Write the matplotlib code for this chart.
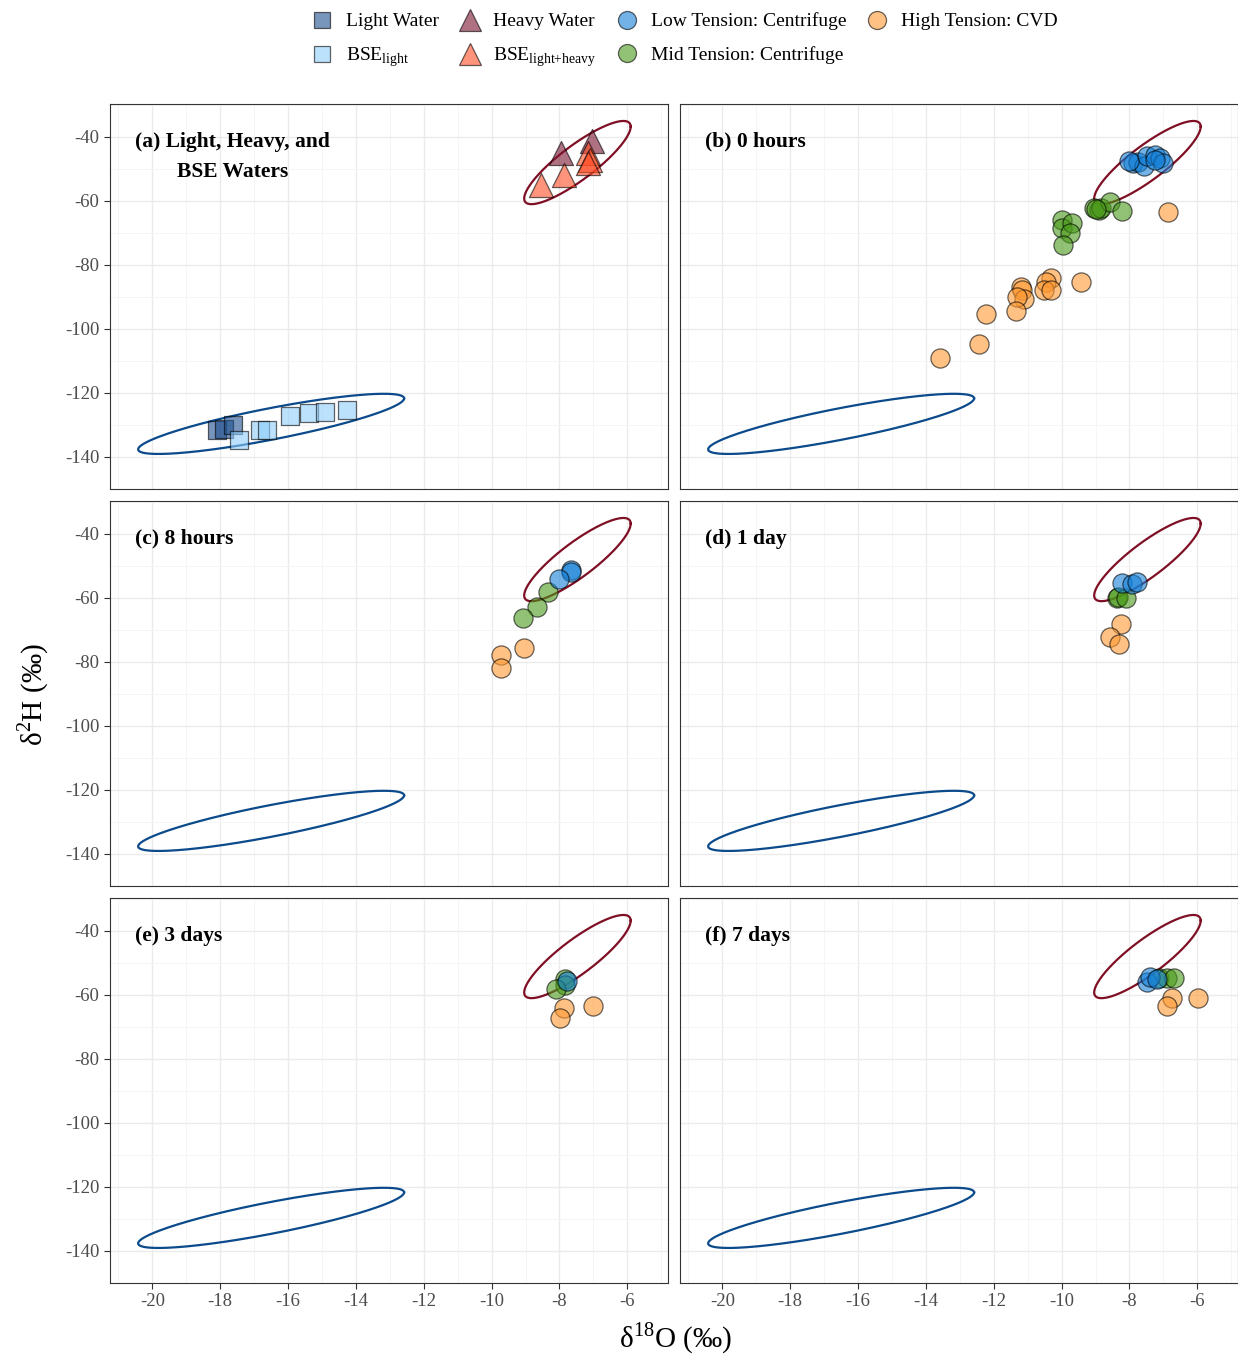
import numpy as np
import matplotlib
matplotlib.use("Agg")
import matplotlib.pyplot as plt
from matplotlib.lines import Line2D

plt.rcParams['font.family'] = ['Liberation Serif', 'DejaVu Serif']
plt.rcParams['axes.unicode_minus'] = False
plt.rcParams['mathtext.fontset'] = 'custom'
plt.rcParams['mathtext.rm'] = 'Liberation Serif'

# ---- data (d18O, d2H) ----
light_x = [-18.1, -17.9, -17.63]
light_y = [-131.7, -131.2, -130.0]
bse_light_x = [-17.45, -16.84, -16.63, -15.95, -15.39, -14.92, -14.26]
bse_light_y = [-134.7, -131.7, -131.7, -127.25, -126.2, -126.0, -125.2]
heavy_x = [-7.95, -7.03]
heavy_y = [-45.0, -41.4]
bse_lh_x = [-7.16, -7.1, -7.16, -7.87, -8.53]
bse_lh_y = [-45.0, -47.1, -48.2, -51.8, -55.0]

panels = ['(b) 0 hours', '(c) 8 hours', '(d) 1 day', '(e) 3 days', '(f) 7 days']
low_x = [
    [-7.89, -7.74, -7.58, -7.47, -7.26, -7.1, -7.0, -7.26, -8.0],
    [-7.67, -7.65, -8.01],
    [-8.23, -7.93, -7.77],
    [-7.77],
    [-7.49, -7.39, -7.2],
]
low_y = [
    [-48.2, -47.8, -49.2, -46.1, -45.5, -46.6, -48.2, -47.1, -47.6],
    [-51.4, -51.8, -54.2],
    [-55.4, -55.75, -55.0],
    [-55.6],
    [-56.1, -54.3, -55.0],
]
mid_x = [
    [-9.05, -8.89, -8.84, -8.58, -8.21, -10.0, -10.0, -9.68, -9.74, -9.95, -9.0],
    [-8.35, -8.65, -9.07],
    [-8.38, -8.33, -8.1],
    [-7.83, -7.83, -8.1],
    [-7.12, -6.9, -6.7],
]
mid_y = [
    [-62.3, -62.8, -62.3, -60.2, -63.1, -65.9, -68.5, -67.0, -70.1, -73.8, -62.6],
    [-58.1, -62.7, -66.3],
    [-60.1, -59.6, -59.9],
    [-55.1, -57.0, -58.2],
    [-54.6, -54.8, -54.8],
]
high_x = [
    [-6.86, -9.42, -10.32, -10.47, -10.53, -10.32, -11.21, -11.18, -11.11, -11.32,
     -11.35, -12.24, -12.44, -13.58],
    [-9.05, -9.71, -9.71],
    [-8.26, -8.57, -8.31],
    [-7.86, -7.98, -7.02],
    [-6.75, -6.9, -5.98],
]
high_y = [
    [-63.5, -85.2, -84.0, -85.2, -87.9, -87.9, -86.8, -87.9, -90.5, -90.0,
     -94.4, -95.2, -104.6, -109.0],
    [-75.6, -77.8, -81.9],
    [-68.0, -72.1, -74.4],
    [-64.0, -67.1, -63.6],
    [-61.1, -63.6, -61.0],
]

# ellipses: center x, half width x, center y, half height y, phase
light_ell = (-16.5, 3.92, -129.65, 9.4, 0.56)
heavy_ell = (-7.47, 1.57, -48.0, 13.0, 0.53)

c_light = '#1f4f8f'
c_bse_light = '#8fcdfa'
c_heavy = '#7a1530'
c_bse_lh = '#ff4d26'
c_low = '#1580d8'
c_mid = '#4a9a1a'
c_high = '#ff9a33'
c_ell_blue = '#0b4a8b'
c_ell_red = '#7f0f24'
alpha = 0.6


def draw_ellipse(ax, e, color):
    cx, ax_, cy, by, d = e
    t = np.linspace(0, 2 * np.pi, 300)
    ax.plot(cx + ax_ * np.cos(t), cy + by * np.cos(t - d), color=color, lw=1.6, zorder=2)


def style(ax, bottom, left):
    ax.set_xlim(-21.25, -4.8)
    ax.set_ylim(-150, -29.7)
    ax.set_xticks(np.arange(-20, -5, 2))
    ax.set_xticks(np.arange(-21, -4, 2), minor=True)
    ax.set_yticks(np.arange(-140, -39, 20))
    ax.set_yticks(np.arange(-150, -29, 20), minor=True)
    ax.grid(True, which='major', color='#ebebeb', lw=1.0, zorder=0)
    ax.grid(True, which='minor', color='#f4f4f4', lw=0.6, zorder=0)
    ax.set_axisbelow(True)
    for s in ax.spines.values():
        s.set_color('#333333')
        s.set_linewidth(0.8)
    ax.tick_params(which='major', length=4, color='#333333', labelsize=13.5,
                   labelcolor='#4d4d4d', labelbottom=bottom, labelleft=left)
    if not bottom:
        ax.tick_params(axis='x', which='major', length=0)
    if not left:
        ax.tick_params(axis='y', which='major', length=0)
    ax.tick_params(which='minor', length=0)


def pts(ax, x, y, color, marker='o', s=190):
    ax.scatter(x, y, s=s, marker=marker, facecolor=color, edgecolor='black',
               linewidth=0.9, alpha=alpha, zorder=3)


fig = plt.figure(figsize=(12.38, 13.54), dpi=100)
lefts = [110 / 1238, 680 / 1238]
bottoms = [1 - 489 / 1354, 1 - 886 / 1354, 1 - 1283 / 1354]
w = 558 / 1238
h = 385 / 1354

axes = []
for r in range(3):
    for c in range(2):
        ax = fig.add_axes([lefts[c], bottoms[r], w, h])
        style(ax, bottom=(r == 2), left=(c == 0))
        draw_ellipse(ax, light_ell, c_ell_blue)
        draw_ellipse(ax, heavy_ell, c_ell_red)
        axes.append(ax)

# panel (a)
ax = axes[0]
pts(ax, light_x, light_y, c_light, 's', 150)
pts(ax, bse_light_x, bse_light_y, c_bse_light, 's', 150)
pts(ax, heavy_x, heavy_y, c_heavy, '^', 300)
pts(ax, bse_lh_x, bse_lh_y, c_bse_lh, '^', 300)
ax.text(0.045, 0.862, '(a) Light, Heavy, and\nBSE Waters', transform=ax.transAxes,
        fontsize=15.5, fontweight='bold', va='center', ha='left', multialignment='center',
        linespacing=1.7)

for i, ax in enumerate(axes[1:]):
    pts(ax, mid_x[i], mid_y[i], c_mid)
    pts(ax, low_x[i], low_y[i], c_low)
    pts(ax, high_x[i], high_y[i], c_high)
    ax.text(0.045, 0.902, panels[i], transform=ax.transAxes, fontsize=15.5,
            fontweight='bold', va='center', ha='left')

fig.text(675 / 1238, 1 - 1338 / 1354, 'δ$^{18}$O (‰)', fontsize=21, ha='center', va='center')
fig.text(33 / 1238, 1 - 695 / 1354, 'δ$^{2}$H (‰)', fontsize=21, ha='center', va='center',
         rotation=90)


def h_(marker, color, ms):
    return Line2D([], [], ls='none', marker=marker, markersize=ms, markerfacecolor=color,
                  markeredgecolor='black', markeredgewidth=0.9, alpha=alpha)


handles = [h_('s', c_light, 11), h_('s', c_bse_light, 11),
           h_('^', c_heavy, 16), h_('^', c_bse_lh, 16),
           h_('o', c_low, 13), h_('o', c_mid, 13),
           h_('o', c_high, 13)]
labels = ['Light Water', r'BSE$_{\mathrm{light}}$',
          'Heavy Water', r'BSE$_{\mathrm{light{+}heavy}}$', 'Low Tension: Centrifuge',
          'Mid Tension: Centrifuge', 'High Tension: CVD']
fig.legend(handles, labels, ncol=4, loc='center', bbox_to_anchor=(684 / 1238, 1 - 41 / 1354),
           frameon=False, fontsize=14, handletextpad=0.6, columnspacing=1.0,
           labelspacing=0.8, handlelength=1.2)

fig.savefig('out.png', dpi=100)
